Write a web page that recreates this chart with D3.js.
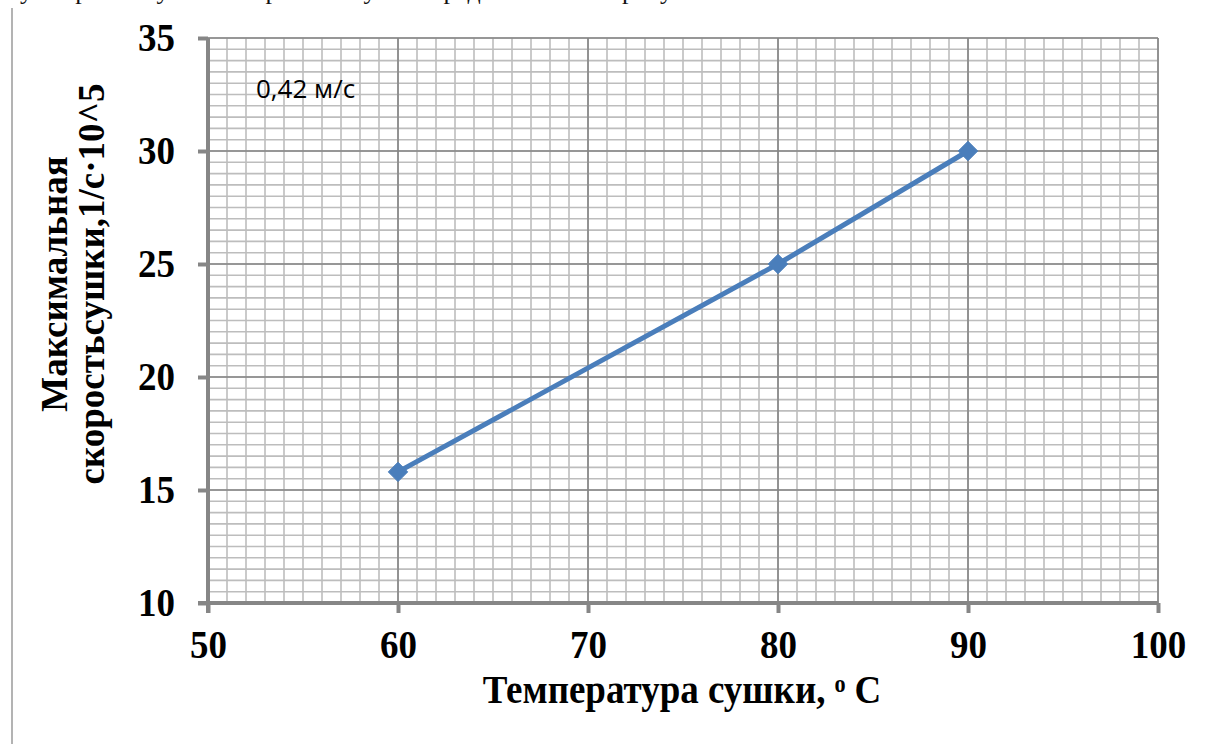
<!DOCTYPE html>
<html>
<head>
<meta charset="utf-8">
<script src="https://cdn.jsdelivr.net/npm/d3@7"></script>
<style>
  html, body { margin: 0; padding: 0; background: #fff; }
  svg { display: block; }
</style>
</head>
<body>
<svg id="chart" width="1208" height="744"></svg>
<script>
// Drying temperature (°C) and maximum drying rate (1/s · 10^5)
const temperatures = [60, 80, 90];
const maxRates = [15.8, 25, 30];
const xTicks = [50, 60, 70, 80, 90, 100];
const yTicks = [10, 15, 20, 25, 30, 35];
const airSpeedLabel = "0,42 м/с";
const xTitle = "Температура сушки, ᵒ С";
const yTitleLines = ["Максимальная", "скоростьсушки,1/с·10^5"];
const headerText = "у скорости сушки от времени сушки представлены на рисунке";

const svg = d3.select("#chart");
const plot = { left: 208, right: 1158, top: 38, bottom: 603 };
const serif = "Liberation Serif, Times New Roman, serif";
const bigFont = 37;
const stretch = 1.1; // slightly tall glyphs of the labels

const x = d3.scaleLinear().domain([50, 100]).range([plot.left, plot.right]);
const y = d3.scaleLinear().domain([10, 35]).range([plot.bottom, plot.top]);

// Page fragments around the figure: the last line of the preceding paragraph and the frame edge
svg.append("text")
  .attr("x", 20).attr("y", -1)
  .attr("font-family", serif)
  .attr("font-size", 26)
  .attr("fill", "#111")
  .text(headerText);

svg.append("line")
  .attr("x1", 12).attr("x2", 12).attr("y1", 8).attr("y2", 744)
  .attr("stroke", "#9a9a9a").attr("stroke-width", 1.5);

// Minor grid
const minorX = d3.range(50, 100.001, 1);
const minorY = d3.range(10, 35.001, 0.5);
const grid = svg.append("g");
grid.selectAll("line.mx").data(minorX).join("line")
  .attr("x1", d => x(d)).attr("x2", d => x(d))
  .attr("y1", plot.top).attr("y2", plot.bottom)
  .attr("stroke", "#bdbdbd").attr("stroke-width", 1.6);
grid.selectAll("line.my").data(minorY).join("line")
  .attr("y1", d => y(d)).attr("y2", d => y(d))
  .attr("x1", plot.left).attr("x2", plot.right)
  .attr("stroke", "#bdbdbd").attr("stroke-width", 1.6);

// Major grid
grid.selectAll("line.Mx").data(xTicks).join("line")
  .attr("x1", d => x(d)).attr("x2", d => x(d))
  .attr("y1", plot.top).attr("y2", plot.bottom)
  .attr("stroke", "#858585").attr("stroke-width", 1.6);
grid.selectAll("line.My").data(yTicks).join("line")
  .attr("y1", d => y(d)).attr("y2", d => y(d))
  .attr("x1", plot.left).attr("x2", plot.right)
  .attr("stroke", "#858585").attr("stroke-width", 1.6);

// Axes
const xAxis = d3.axisBottom(x).tickValues(xTicks).tickSize(10).tickFormat(d3.format("d"));
const yAxis = d3.axisLeft(y).tickValues(yTicks).tickSize(10).tickPadding(23).tickFormat(d3.format("d"));

function styleAxis(g) {
  g.select(".domain").remove();
  g.selectAll(".tick line").attr("stroke", "#868686").attr("stroke-width", 4);
  g.selectAll(".tick text")
    .attr("font-family", serif)
    .attr("font-weight", "bold")
    .attr("font-size", bigFont)
    .attr("fill", "#000");
}

const gx = svg.append("g").attr("transform", `translate(0,${plot.bottom})`).call(xAxis).call(styleAxis);
gx.selectAll(".tick text")
  .attr("y", 0).attr("dy", null)
  .attr("transform", `translate(0,55) scale(1,${stretch})`);
const gy = svg.append("g").attr("transform", `translate(${plot.left},0)`).call(yAxis).call(styleAxis);
gy.selectAll(".tick text")
  .attr("dy", "0.3em")
  .attr("transform", `scale(1,${stretch})`);

// Axis lines
svg.append("line")
  .attr("x1", plot.left - 10).attr("x2", plot.right)
  .attr("y1", plot.bottom).attr("y2", plot.bottom)
  .attr("stroke", "#868686").attr("stroke-width", 4);
svg.append("line")
  .attr("x1", plot.left).attr("x2", plot.left)
  .attr("y1", plot.top).attr("y2", plot.bottom + 10)
  .attr("stroke", "#868686").attr("stroke-width", 4);

// Data series
const pts = temperatures.map((t, i) => ({ t, v: maxRates[i] }));
svg.append("path")
  .datum(pts)
  .attr("d", d3.line().x(d => x(d.t)).y(d => y(d.v)))
  .attr("fill", "none")
  .attr("stroke", "#4a7ebb")
  .attr("stroke-width", 5)
  .attr("stroke-linejoin", "round");

svg.selectAll("path.marker").data(pts).join("path")
  .attr("class", "marker")
  .attr("transform", d => `translate(${x(d.t)},${y(d.v)})`)
  .attr("d", d3.symbol().type(d3.symbolDiamond2).size(240))
  .attr("fill", "#4a7ebb")
  .attr("stroke", "#4a7ebb")
  .attr("stroke-width", 1);

// Annotation
svg.append("text")
  .attr("x", 256).attr("y", 98)
  .attr("font-family", "Open Sans, Liberation Sans, sans-serif")
  .attr("font-size", 26)
  .attr("fill", "#000")
  .text(airSpeedLabel);

// Axis titles
svg.append("text")
  .attr("transform", `translate(682,703) scale(1,${stretch})`)
  .attr("text-anchor", "middle")
  .attr("font-family", serif)
  .attr("font-weight", "bold")
  .attr("font-size", bigFont)
  .attr("fill", "#000")
  .text(xTitle);

const yTitle = svg.append("text")
  .attr("transform", "translate(0,284) rotate(-90)")
  .attr("text-anchor", "middle")
  .attr("font-family", serif)
  .attr("font-weight", "bold")
  .attr("font-size", bigFont)
  .attr("fill", "#000");
yTitle.selectAll("tspan").data(yTitleLines).join("tspan")
  .attr("x", 0)
  .attr("y", (d, i) => 67 + i * 37)
  .text(d => d);
</script>
</body>
</html>
